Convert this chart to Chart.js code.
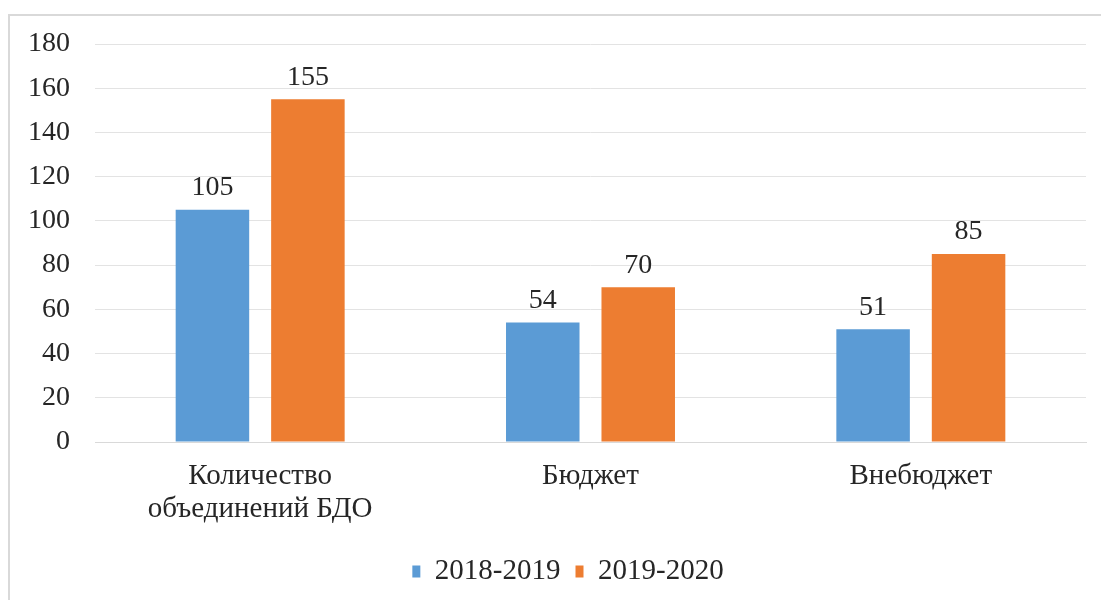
<!DOCTYPE html>
<html>
<head>
<meta charset="utf-8">
<script src="https://cdn.jsdelivr.net/npm/chart.js@4/dist/chart.umd.min.js"></script>
<style>
    html, body { margin: 0; padding: 0; background: #fff; }
    #frame {
        position: absolute; left: 8px; top: 14px; width: 1100px; height: 600px;
        border-left: 2px solid #d9d9d9; border-top: 2px solid #d9d9d9;
        box-sizing: border-box;
    }
    #holder { position: absolute; left: 0; top: 0; width: 1091px; height: 584px; }
</style>
</head>
<body>
<div id="frame">
    <div id="holder"><canvas id="diagram"></canvas></div>
</div>
<script type="text/javascript">
    var categories = [["Количество", "объединений БДО"], "Бюджет", "Внебюджет"];
    var seriesNames = ["2018-2019", "2019-2020"];
    var values2018 = [105, 54, 51];
    var values2019 = [155, 70, 85];
    var yTicks = [0, 20, 40, 60, 80, 100, 120, 140, 160, 180];

    var fontFamily = "'Liberation Serif', 'Times New Roman', serif";
    var textColour = "#262626";

    // draws the numbers above each bar
    var valueLabels = {
        id: 'valueLabels',
        afterDatasetsDraw: function(chart) {
            var ctx = chart.ctx;
            ctx.save();
            ctx.font = "28px " + fontFamily;
            ctx.fillStyle = textColour;
            ctx.textAlign = "center";
            ctx.textBaseline = "bottom";
            chart.data.datasets.forEach(function(ds, i) {
                var meta = chart.getDatasetMeta(i);
                meta.data.forEach(function(bar, j) {
                    ctx.fillText(ds.data[j], bar.x, bar.y - 8);
                });
            });
            ctx.restore();
        }
    };

    // legend sits centred under the plot area, not the whole canvas
    var legendShift = {
        id: 'legendShift',
        afterLayout: function(chart) {
            if (chart.legend) {
                chart.legend.left += 40;
            }
        }
    };

    new Chart(document.getElementById("diagram"), {
        type: 'bar',
        data: {
            labels: categories,
            datasets: [
                { label: seriesNames[0], data: values2018, backgroundColor: "#5B9BD5",
                  barPercentage: 0.77, categoryPercentage: 0.578 },
                { label: seriesNames[1], data: values2019, backgroundColor: "#ED7D31",
                  barPercentage: 0.77, categoryPercentage: 0.578 }
            ]
        },
        options: {
            responsive: true,
            maintainAspectRatio: false,
            animation: false,
            layout: { padding: { top: 28, right: 15, left: 0, bottom: 4 } },
            scales: {
                x: {
                    afterFit: function(axis) { axis.height = 100; },
                    grid: { display: false, drawTicks: false },
                    border: { color: "#d9d9d9", width: 1 },
                    ticks: { color: textColour, padding: 18,
                             font: { family: fontFamily, size: 29, lineHeight: 1.14 } }
                },
                y: {
                    min: 0, max: 180,
                    afterBuildTicks: function(axis) {
                        axis.ticks = yTicks.map(function(v) { return { value: v }; });
                    },
                    afterFit: function(axis) {
                        axis.width = 85;
                        // tick padding is only meant to push labels left
                        axis.paddingTop = 0;
                        axis.paddingBottom = 0;
                    },
                    grid: { color: "#e3e3e3", drawTicks: false },
                    border: { display: false },
                    ticks: { color: textColour, padding: 25,
                             font: { family: fontFamily, size: 28 } }
                }
            },
            plugins: {
                legend: {
                    position: 'bottom',
                    labels: {
                        color: textColour, boxWidth: 8, boxHeight: 12, padding: 15,
                        font: { family: fontFamily, size: 29 }
                    }
                },
                tooltip: { enabled: false }
            }
        },
        plugins: [valueLabels, legendShift]
    });
</script>
</body>
</html>
